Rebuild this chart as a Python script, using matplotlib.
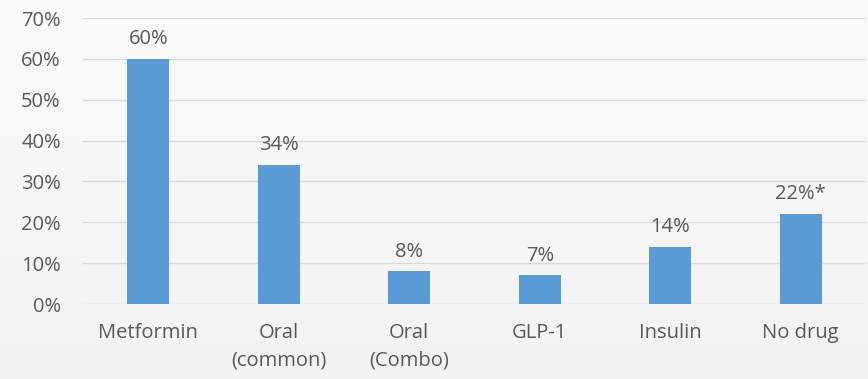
import numpy as np
import matplotlib
matplotlib.use("Agg")
import matplotlib.pyplot as plt
from matplotlib.ticker import PercentFormatter

categories = ["Metformin", "Oral\n(common)", "Oral\n(Combo)", "GLP-1", "Insulin", "No drug"]
values = [60, 34, 8, 7, 14, 22]
value_labels = ["60%", "34%", "8%", "7%", "14%", "22%*"]
y_ticks = [0, 10, 20, 30, 40, 50, 60, 70]

bar_color = "#5b9bd5"
text_color = "#595959"
grid_color = "#d9d9d9"

plt.rcParams["font.family"] = ["Open Sans", "DejaVu Sans"]

fig = plt.figure(figsize=(8.68, 3.79), dpi=100)

# soft vertical background gradient
bg = fig.add_axes([0, 0, 1, 1], zorder=-10)
grad = np.linspace(0.985, 0.95, 256).reshape(-1, 1)
bg.imshow(np.dstack([grad, grad, grad]), aspect="auto", extent=[0, 1, 0, 1])
bg.axis("off")

ax = fig.add_axes([83 / 868, 1 - 304 / 379, (866 - 83) / 868, (304 - 18) / 379])
ax.set_facecolor("none")

x = np.arange(len(categories))
ax.bar(x, values, width=0.32, color=bar_color, zorder=3)

for xi, v, lab in zip(x, values, value_labels):
    ax.annotate(lab, (xi, v), xytext=(0, 7), textcoords="offset points",
                ha="center", va="bottom", fontsize=14.5, color=text_color)

ax.set_xlim(-0.5, len(categories) - 0.5)
ax.set_ylim(0, 70)
ax.set_yticks(y_ticks)
ax.yaxis.set_major_formatter(PercentFormatter(decimals=0))
ax.set_xticks(x)
ax.set_xticklabels(categories)
ax.grid(axis="y", color=grid_color, linewidth=1, zorder=0)
ax.set_axisbelow(True)
for s in ax.spines.values():
    s.set_visible(False)
ax.tick_params(axis="both", length=0, labelsize=14.5, labelcolor=text_color)
ax.tick_params(axis="y", pad=16)
ax.tick_params(axis="x", pad=14)
for t in ax.get_xticklabels():
    t.set_linespacing(1.45)

fig.savefig("out.png", dpi=100)
